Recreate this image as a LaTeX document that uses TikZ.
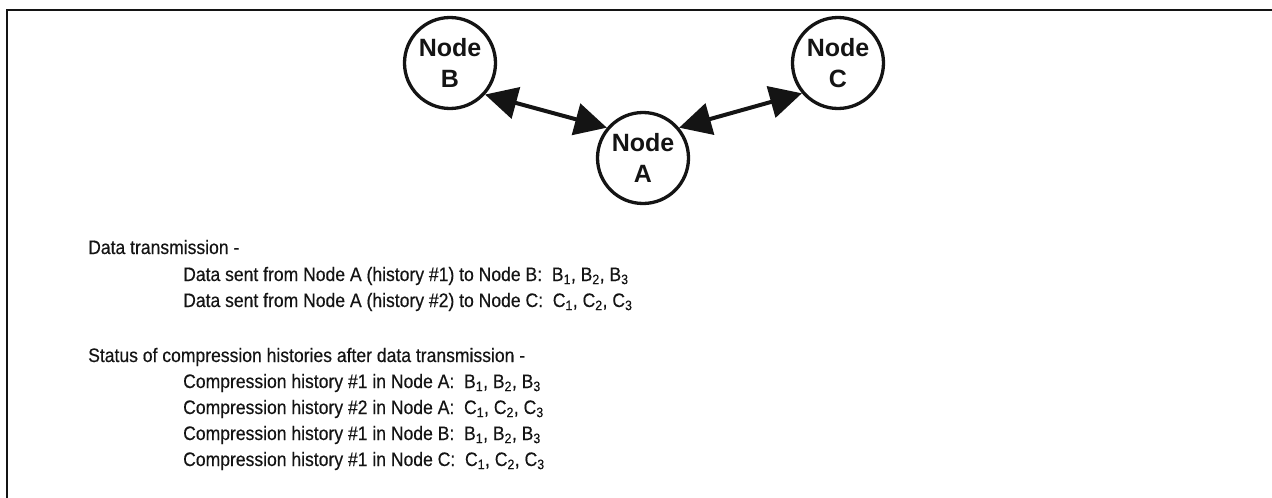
\documentclass[tikz,border=0pt]{standalone}
\usepackage{fontspec}
\setmainfont{Liberation Sans}
\newfontfamily\bodyfont[FakeStretch=0.9,FakeBold=0.4]{Liberation Sans}
\usetikzlibrary{arrows.meta}
\definecolor{ink}{HTML}{141414}
\newcommand\sbs[1]{\textsubscript{#1}}
\begin{document}
\begin{tikzpicture}[x=1pt,y=-1pt,
  nd/.style={circle,draw=ink,line width=3.3pt,minimum size=91pt,inner sep=0pt,align=center,text=ink,font=\fontsize{25}{31}\selectfont\bfseries},
  link/.style={line width=4pt,draw=ink,{Triangle[length=32pt,width=32pt]}-{Triangle[length=32pt,width=32pt]}},
  txt/.style={anchor=base west,inner sep=0pt,text=ink,font=\bodyfont\fontsize{19.5}{26}\selectfont},
  frame/.style={line width=2pt,draw=ink}]
\useasboundingbox (0,0) rectangle (1272,498);
\coordinate (f1) at (7,498);
\coordinate (f2) at (7,10);
\coordinate (f3) at (1272,10);
\draw[frame] (f1) -- (f2) -- (f3);

\node[nd] (B) at (450,63) {Node\\B};
\node[nd] (C) at (838,63) {Node\\C};
\node[nd] (A) at (643,158) {Node\\A};
\draw[link] (B.-42) -- (A.140);
\draw[link] (A.40) -- (C.-140);

\node[txt] (t1) at (88,254) {Data transmission -};
\node[txt] (t2) at (183,281) {Data sent from Node A (history \#1) to Node B:\ \ B\sbs{1}, B\sbs{2}, B\sbs{3}};
\node[txt] (t3) at (183,307) {Data sent from Node A (history \#2) to Node C:\ \ C\sbs{1}, C\sbs{2}, C\sbs{3}};
\node[txt] (t4) at (88,362) {Status of compression histories after data transmission -};
\node[txt] (t5) at (183,388) {Compression history \#1 in Node A:\ \ B\sbs{1}, B\sbs{2}, B\sbs{3}};
\node[txt] (t6) at (183,414) {Compression history \#2 in Node A:\ \ C\sbs{1}, C\sbs{2}, C\sbs{3}};
\node[txt] (t7) at (183,440) {Compression history \#1 in Node B:\ \ B\sbs{1}, B\sbs{2}, B\sbs{3}};
\node[txt] (t8) at (183,466) {Compression history \#1 in Node C:\ \ C\sbs{1}, C\sbs{2}, C\sbs{3}};
\end{tikzpicture}
\end{document}
